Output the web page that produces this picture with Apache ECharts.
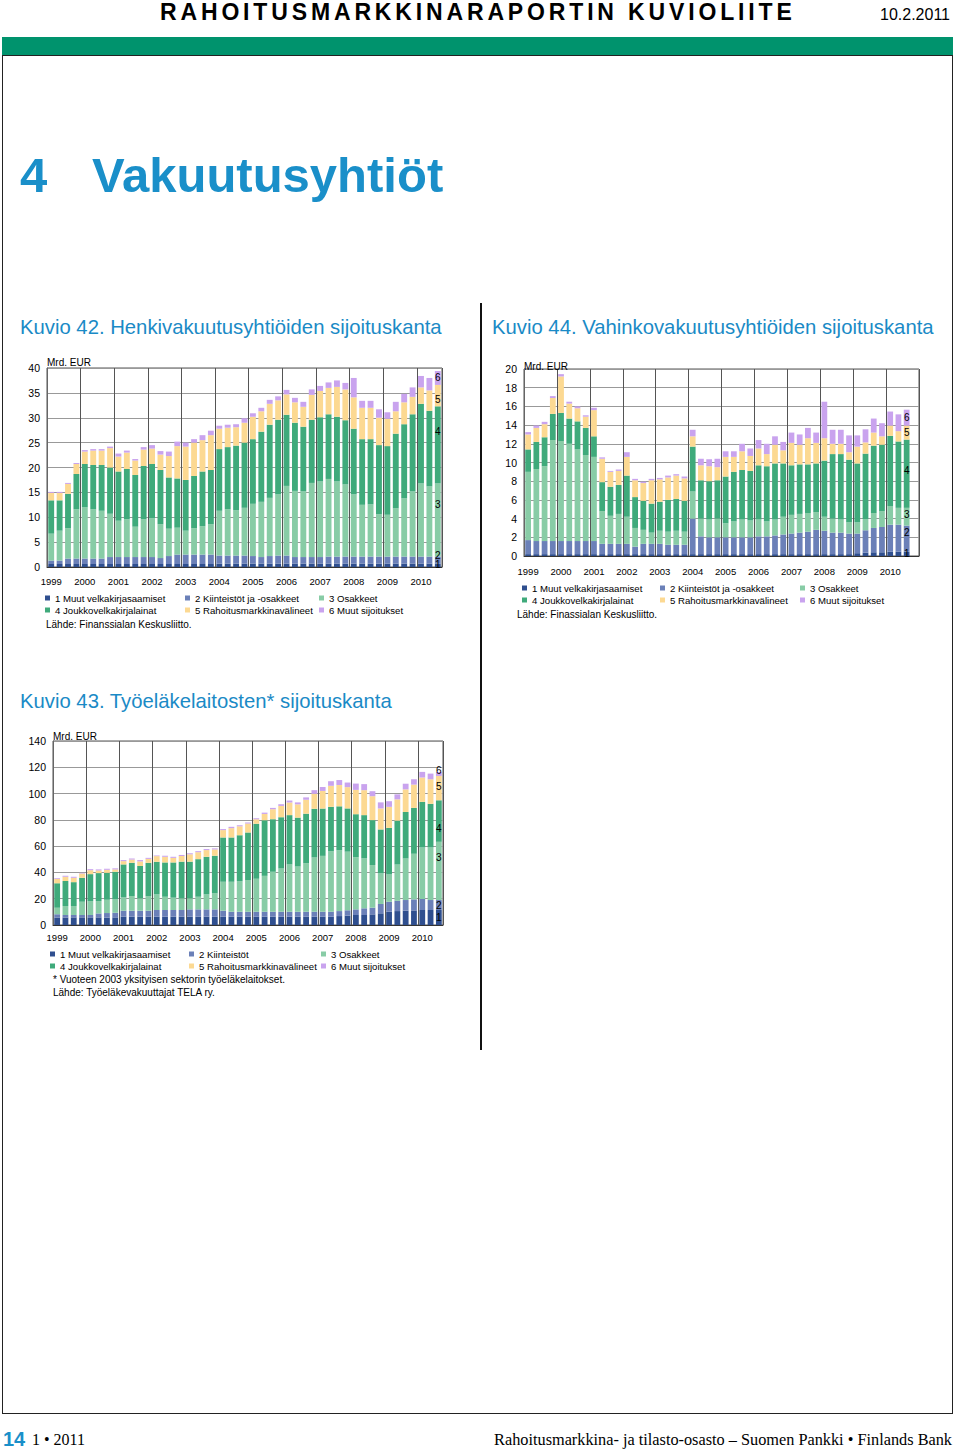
<!DOCTYPE html>
<html><head><meta charset="utf-8">
<script src="https://cdn.jsdelivr.net/npm/echarts@6/dist/echarts.min.js"></script>
<style>
html,body{margin:0;padding:0;background:#fff;}
body{width:960px;height:1450px;position:relative;overflow:hidden;font-family:'Liberation Sans',Arial,sans-serif;color:#000;}
.abs{position:absolute;white-space:nowrap;}
#chart{position:absolute;left:0;top:0;width:960px;height:1450px;}
.ktitle{font-size:20.3px;line-height:24px;color:#1a8ac6;}
</style></head><body>
<div class="abs" style="left:160px;top:0px;font-size:23px;font-weight:bold;letter-spacing:3.85px;line-height:25px;">RAHOITUSMARKKINARAPORTIN KUVIOLIITE</div>
<div class="abs" style="left:880px;top:6px;font-size:16px;line-height:18px;">10.2.2011</div>
<div class="abs" style="left:2px;top:37px;width:951px;height:18px;background:#00936d;"></div>
<div class="abs" style="left:2px;top:55px;width:949px;height:1357px;border:1px solid #222;"></div>
<div class="abs" style="left:20px;top:147px;font-size:49px;font-weight:bold;color:#1a8fc9;line-height:57px;">4</div>
<div class="abs" style="left:92px;top:147px;font-size:49px;font-weight:bold;color:#1a8fc9;line-height:57px;">Vakuutusyhtiöt</div>
<div class="abs" style="left:480px;top:303px;width:1.5px;height:747px;background:#111;"></div>
<div class="abs ktitle" style="left:20px;top:315px;">Kuvio 42. Henkivakuutusyhtiöiden sijoituskanta</div>
<div class="abs ktitle" style="left:492px;top:315px;">Kuvio 44. Vahinkovakuutusyhtiöiden sijoituskanta</div>
<div class="abs ktitle" style="left:20px;top:689px;">Kuvio 43. Työeläkelaitosten* sijoituskanta</div>
<div class="abs" style="left:3px;top:1427px;font-size:20px;font-weight:bold;color:#1a8fc9;line-height:24px;">14</div>
<div class="abs" style="left:32px;top:1431px;font-size:16px;line-height:18px;font-family:'Liberation Serif','Times New Roman',serif;">1 • 2011</div>
<div class="abs" style="right:8px;top:1431px;font-size:16.3px;line-height:18px;font-family:'Liberation Serif','Times New Roman',serif;">Rahoitusmarkkina- ja tilasto-osasto – Suomen Pankki • Finlands Bank</div>
<div id="chart"></div>
<script>
// ---- tick labels / categories ----
const years = ['1999','2000','2001','2002','2003','2004','2005','2006','2007','2008','2009','2010'];
const quarters = ['Q1','Q2','Q3','Q4'];

// ---- series names ----
const names42 = ['1 Muut velkakirjasaamiset','2 Kiinteistöt ja -osakkeet','3 Osakkeet','4 Joukkovelkakirjalainat','5 Rahoitusmarkkinavälineet','6 Muut sijoitukset'];
const names44 = names42;
const names43 = ['1 Muut velkakirjasaamiset','2 Kiinteistöt','3 Osakkeet','4 Joukkovelkakirjalainat','5 Rahoitusmarkkinavälineet','6 Muut sijoitukset'];

// ---- Kuvio 42: Henkivakuutusyhtiöt, Mrd. EUR, 1999Q1–2010Q3 ----
const henki1 = [0.6,0.6,0.6,0.6, 0.6,0.6,0.6,0.6, 0.6,0.6,0.6,0.6, 0.6,0.6,0.6,0.6, 0.6,0.6,0.6,0.6, 0.7,0.7,0.7,0.7, 0.7,0.7,0.7,0.7, 0.7,0.7,0.7,0.7, 0.7,0.7,0.7,0.7, 0.7,0.7,0.7,0.7, 0.7,0.7,0.7,0.7, 0.7,0.7,0.7];
const henki2 = [0.7,0.7,1.1,1.1, 1.1,1.1,1.1,1.4, 1.4,1.4,1.4,1.4, 1.4,1.2,1.6,1.9, 1.9,1.9,1.9,1.9, 1.6,1.6,1.6,1.6, 1.5,1.3,1.5,1.6, 1.6,1.3,1.3,1.3, 1.3,1.4,1.4,1.4, 1.4,1.4,1.4,1.4, 1.4,1.4,1.4,1.4, 1.4,1.4,1.4];
const henki3 = [5.4,6.0,6.1,9.9, 10.3,9.9,9.6,8.7, 7.3,7.6,6.1,7.6, 7.8,6.8,5.5,5.4, 4.8,5.3,5.7,6.1, 9.0,9.3,9.1,9.6, 10.5,11.1,11.7,12.3, 14.0,13.3,13.2,14.9, 15.2,15.6,15.1,14.5, 12.5,10.4,10.5,8.5, 8.4,9.7,11.7,13.1, 14.7,14.1,14.7];
const henki4 = [6.7,6.1,6.9,7.1, 8.7,8.9,9.2,9.3, 9.9,10.1,10.4,10.7, 10.9,10.9,10.3,9.9, 10.2,10.5,11.0,10.9, 12.4,12.5,13.0,13.1, 13.0,14.1,14.7,15.0, 14.3,13.7,13.0,12.7, 12.9,13.0,13.0,12.9, 13.2,13.2,13.1,13.9, 13.8,15.0,14.9,15.5, 16.0,15.2,15.5];
const henki5 = [1.5,1.5,2.0,2.0, 2.5,2.9,2.9,3.9, 3.0,3.3,2.9,3.3, 3.1,3.1,4.3,6.5, 6.7,6.7,6.3,7.0, 4.1,3.9,3.7,4.0, 4.5,4.1,4.2,3.9, 4.1,4.1,4.0,5.0, 5.3,5.3,6.0,6.2, 6.3,6.3,6.3,5.5, 5.5,4.5,4.4,3.5, 3.3,4.1,4.3];
const henki6 = [0.2,0.2,0.2,0.2, 0.3,0.3,0.3,0.3, 0.6,0.4,0.3,0.5, 0.7,0.7,0.9,0.9, 0.8,0.7,1.0,0.9, 0.6,0.6,0.6,0.9, 0.7,0.7,0.8,0.8, 0.9,0.9,1.0,1.1, 1.0,1.1,1.3,1.3, 3.9,1.4,1.4,1.7, 1.3,1.9,1.7,1.9, 2.3,2.5,2.8];

// ---- Kuvio 44: Vahinkovakuutusyhtiöt, Mrd. EUR, 1999Q1–2010Q3 (axis to 2010Q4) ----
const vahinko1 = [0.2,0.2,0.2,0.2, 0.2,0.2,0.2,0.2, 0.2,0.2,0.2,0.2, 0.2,0.2,0.2,0.2, 0.2,0.2,0.2,0.2, 0.2,0.2,0.2,0.2, 0.2,0.2,0.2,0.2, 0.2,0.2,0.2,0.2, 0.2,0.2,0.2,0.2, 0.2,0.2,0.2,0.2, 0.3,0.35,0.4,0.4, 0.45,0.45,0.45];
const vahinko2 = [1.5,1.4,1.4,1.4, 1.4,1.4,1.4,1.4, 1.4,1.1,1.1,1.1, 1.1,0.8,1.1,1.1, 1.1,1.0,1.0,1.0, 3.8,1.9,1.8,1.8, 1.8,1.8,1.8,1.8, 1.9,1.9,2.0,2.1, 2.2,2.3,2.4,2.6, 2.5,2.3,2.3,2.2, 2.1,2.4,2.6,2.7, 2.9,2.9,2.8];
const vahinko3 = [7.3,7.7,8.0,10.8, 10.7,10.4,9.8,9.2, 9.0,3.5,3.0,3.2, 2.9,2.0,1.5,1.2, 1.4,1.4,1.5,1.4, 2.9,1.9,1.9,2.0, 1.5,1.7,1.9,1.8, 1.8,1.6,1.7,1.9, 2.0,2.0,2.0,1.9, 1.5,1.5,1.4,1.2, 1.2,1.2,1.6,1.7, 2.0,1.8,1.9];
const vahinko4 = [2.4,2.9,3.1,2.8, 3.0,2.7,3.0,2.9, 2.2,3.1,3.1,3.1, 4.4,3.3,3.1,3.1, 3.1,3.4,3.4,3.3, 4.8,4.1,4.1,4.1, 5.0,5.3,5.3,5.3, 5.8,5.9,6.0,5.7, 5.3,5.3,5.2,5.2, 6.0,6.9,7.0,6.7, 6.3,7.0,7.2,7.1, 7.5,7.1,7.3];
const vahinko5 = [1.6,1.5,1.4,1.7, 3.9,1.6,1.4,1.2, 2.8,2.5,1.6,1.5, 2.0,1.8,1.9,2.5, 2.4,2.4,2.5,2.4, 1.1,1.6,1.6,1.4, 2.1,1.6,2.0,1.6, 1.8,1.3,2.0,1.4, 2.4,2.1,2.8,2.2, 2.4,1.1,1.1,0.8, 1.8,1.2,1.4,0.9, 1.1,1.1,1.5];
const vahinko6 = [0.25,0.25,0.25,0.2, 0.25,0.2,0.2,0.15, 0.25,0.15,0.1,0.15, 0.5,0.15,0.15,0.15, 0.15,0.2,0.15,0.2, 0.7,0.7,0.75,0.9, 0.6,0.6,0.8,0.8, 0.9,1.1,0.9,0.9, 1.1,1.1,1.1,1.1, 3.9,1.5,1.5,1.8, 1.2,1.4,1.5,1.4, 1.5,1.8,1.7];

// ---- Kuvio 43: Työeläkelaitokset, Mrd. EUR, 1999Q1–2010Q3 ----
const tyo1 = [5.8,5.8,5.8,5.8, 5.8,5.8,5.6,5.8, 6.3,6.3,6.3,6.3, 6.3,6.3,6.3,6.3, 6.3,6.3,6.3,6.3, 6.3,6.3,6.3,6.3, 6.3,6.3,6.3,6.3, 6.3,6.3,6.3,6.3, 6.3,6.3,6.8,7.1, 7.6,7.6,8.1,8.9, 10.1,10.6,10.9,11.1, 11.4,11.4,11.4];
const tyo2 = [2.3,1.8,1.8,1.8, 1.8,3.0,3.5,3.5, 4.6,4.6,4.6,4.6, 5.1,5.1,5.1,5.1, 5.6,5.6,5.6,5.6, 4.6,3.8,3.8,3.8, 3.8,3.8,3.8,3.8, 3.8,3.8,3.8,3.8, 3.8,3.8,3.8,4.1, 4.3,5.1,5.1,7.1, 7.6,7.8,8.1,8.4, 8.4,7.6,7.6];
const tyo3 = [5.1,6.8,6.8,10.1, 10.6,9.4,10.1,10.4, 10.1,11.1,9.4,11.1, 11.9,10.1,9.4,8.9, 8.4,9.6,11.4,12.2, 22.0,22.8,23.3,24.1, 25.1,27.3,30.4,32.9, 36.0,34.4,36.9,41.3, 42.5,46.1,46.3,44.6, 39.7,38.0,32.4,23.3, 20.8,27.6,31.6,34.7, 39.2,40.0,44.3];
const tyo4 = [18.5,19.0,18.2,18.2, 20.5,21.3,20.5,20.8, 25.1,25.3,24.6,25.3, 24.8,26.1,26.8,27.9, 27.9,28.6,28.6,28.6, 33.7,33.7,34.9,36.2, 41.8,42.3,40.0,39.0, 37.5,37.2,37.7,37.0, 36.0,33.7,33.4,32.9, 32.7,32.9,34.2,33.4, 35.4,33.4,35.4,34.9, 34.7,33.2,31.6];
const tyo5 = [3.3,3.3,3.3,3.3, 3.0,2.0,2.3,1.8, 2.5,2.5,3.5,3.0, 4.3,4.3,3.5,4.3, 5.6,5.3,5.1,4.8, 5.6,7.1,6.8,6.8, 3.5,4.8,7.6,8.6, 9.6,10.1,10.6,11.4, 13.4,16.0,16.2,16.2, 18.5,19.0,18.2,16.0, 16.0,16.2,17.2,17.7, 18.5,18.7,18.5];
const tyo6 = [0.5,0.8,0.8,0.5, 0.8,0.8,0.8,0.8, 0.8,0.8,1.0,0.8, 0.5,0.8,0.8,0.8, 0.8,0.8,0.8,0.8, 0.8,1.0,0.8,0.8, 0.8,1.0,1.0,1.3, 1.5,1.5,1.8,2.8, 3.0,3.5,3.8,3.5, 4.8,4.6,3.8,4.6, 4.3,3.8,4.3,4.1, 4.3,4.3,3.0];

// ---- build ----
const FONT = "'Liberation Sans', Arial, sans-serif";
const colors = ['#2f4f8f','#6b80b8','#88cca6','#3faa7b','#fcd992','#c9a3ee'];
const allCats = years.flatMap(y => quarters.map(q => y + ' ' + q));
const cats42 = allCats.slice(0, 47);
const cats44 = allCats.slice(0, 48);
const cats43 = allCats.slice(0, 47);

function xAxisFor(idx, cats, margin) {
  return {
    gridIndex: idx, type: 'category', data: cats,
    axisLabel: { interval: 3, formatter: v => v.slice(0, 4), fontSize: 9.5, color: '#000', margin: margin, fontFamily: FONT },
    axisTick: { show: false },
    axisLine: { lineStyle: { color: '#333', width: 1 } },
    splitLine: { show: true, interval: 3, lineStyle: { color: '#555', width: 1 } }
  };
}
function yAxisFor(idx, max, interval, nameGap) {
  return {
    gridIndex: idx, type: 'value', min: 0, max: max, interval: interval,
    name: 'Mrd. EUR', nameLocation: 'end', nameGap: nameGap,
    nameTextStyle: { align: 'left', verticalAlign: 'bottom', fontSize: 10, color: '#000', fontFamily: FONT },
    axisLabel: { fontSize: 10.5, color: '#000', margin: 7, fontFamily: FONT },
    axisLine: { show: true, lineStyle: { color: '#666' } },
    axisTick: { show: false },
    splitLine: { show: true, lineStyle: { color: '#999', width: 1 } }
  };
}
function seriesFor(idx, names, arrs, offs) {
  return arrs.map((arr, s) => ({
    name: names[s], type: 'bar', stack: 'st' + idx, xAxisIndex: idx, yAxisIndex: idx,
    barCategoryGap: '30%', itemStyle: { color: colors[s] }, silent: true,
    data: arr.map((v, i) => i === arr.length - 1
      ? { value: v, label: { show: true, position: 'inside', offset: [0, offs[s]], formatter: String(s + 1), color: '#000', fontSize: 10, fontFamily: FONT } }
      : v)
  }));
}
function legendCol(names, left, top) {
  return {
    data: names, left: left, top: top, orient: 'vertical', padding: 0, itemGap: 0,
    itemWidth: 5, itemHeight: 5, icon: 'rect', selectedMode: false,
    textStyle: { fontSize: 9.6, color: '#000', lineHeight: 12, fontFamily: FONT }
  };
}
function txt(text, left, top) {
  return { type: 'text', left: left, top: top, style: { text: text, fontSize: 10, fill: '#000', fontFamily: FONT } };
}

const option = {
  animation: false,
  textStyle: { fontFamily: FONT },
  grid: [
    { left: 47, top: 368, width: 395, height: 199, show: true, borderColor: '#555', borderWidth: 1 },
    { left: 524, top: 369, width: 395, height: 187, show: true, borderColor: '#555', borderWidth: 1 },
    { left: 53, top: 741, width: 390, height: 184, show: true, borderColor: '#555', borderWidth: 1 }
  ],
  xAxis: [xAxisFor(0, cats42, 9.5), xAxisFor(1, cats44, 10.5), xAxisFor(2, cats43, 7)],
  yAxis: [yAxisFor(0, 40, 5, 1), yAxisFor(1, 20, 2, -2), yAxisFor(2, 140, 20, 0)],
  legend: [
    legendCol([names42[0], names42[3]], 45, 592),
    legendCol([names42[1], names42[4]], 185, 592),
    legendCol([names42[2], names42[5]], 319, 592),
    legendCol([names44[0], names44[3]], 522, 582),
    legendCol([names44[1], names44[4]], 660, 582),
    legendCol([names44[2], names44[5]], 800, 582),
    legendCol([names43[0], names43[3]], 50, 948),
    legendCol([names43[1], names43[4]], 189, 948),
    legendCol([names43[2], names43[5]], 321, 948)
  ],
  graphic: [
    txt('Lähde: Finanssialan Keskusliitto.', 46, 619),
    txt('Lähde: Finassialan Keskusliitto.', 517, 609),
    txt('* Vuoteen 2003 yksityisen sektorin työeläkelaitokset.', 53, 974),
    txt('Lähde: Työeläkevakuuttajat TELA ry.', 53, 987)
  ],
  series: [
    ...seriesFor(0, names42, [henki1, henki2, henki3, henki4, henki5, henki6], [-1, -5, -15, -13, 4, 0]),
    ...seriesFor(1, names44, [vahinko1, vahinko2, vahinko3, vahinko4, vahinko5, vahinko6], [0, -6, -2, -3, 0, 0]),
    ...seriesFor(2, names43, [tyo1, tyo2, tyo3, tyo4, tyo5, tyo6], [0, 0, -13, 7, -2, -3])
  ]
};
const chart = echarts.init(document.getElementById('chart'), null, { renderer: 'svg' });
chart.setOption(option);
</script>
</body></html>
